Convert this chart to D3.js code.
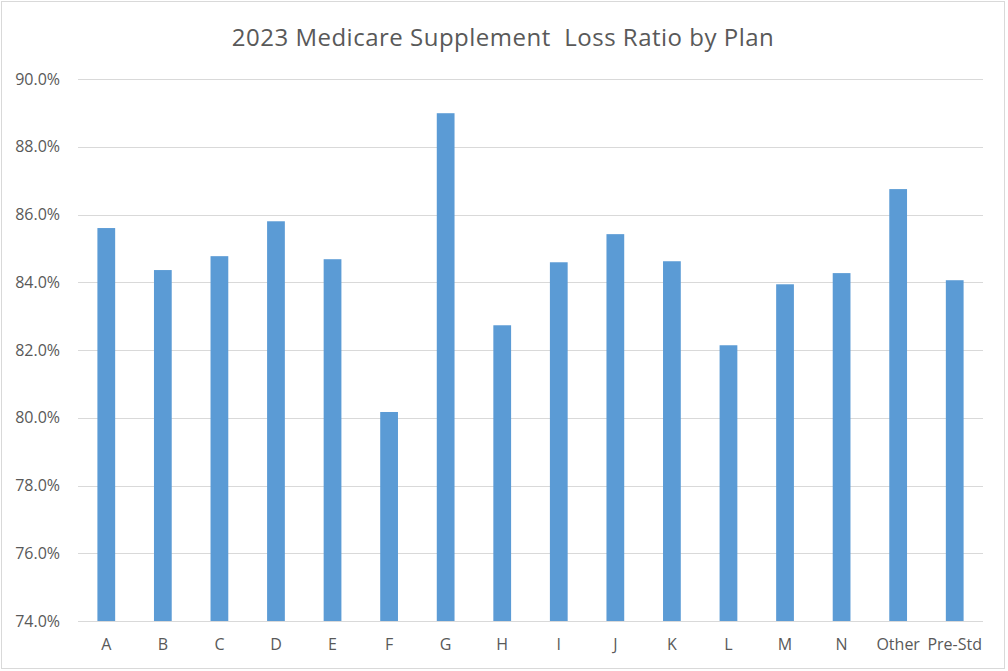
<!DOCTYPE html>
<html>
<head>
<meta charset="utf-8">
<script src="https://cdn.jsdelivr.net/npm/d3@7"></script>
<style>
  html, body { margin: 0; padding: 0; background: #fff; }
  svg { display: block; }
  text { font-family: "Open Sans", "Liberation Sans", sans-serif; fill: #595959; }
</style>
</head>
<body>
<svg id="chart" width="1008" height="671"></svg>
<script>
const categories = ["A","B","C","D","E","F","G","H","I","J","K","L","M","N","Other","Pre-Std"];
const lossRatio = [85.60, 84.36, 84.77, 85.80, 84.68, 80.17, 88.99, 82.73, 84.59, 85.42, 84.62, 82.14, 83.94, 84.27, 86.75, 84.06];
const yTicks = [74, 76, 78, 80, 82, 84, 86, 88, 90];
const title = "2023 Medicare Supplement  Loss Ratio by Plan";

const svg = d3.select("#chart");
const W = 1008, H = 671;
const margin = { left: 78, right: 25, top: 79, bottom: 50 };

svg.append("rect")
  .attr("x", 1.5).attr("y", 1.5)
  .attr("width", 1003).attr("height", 667)
  .attr("fill", "#fff").attr("stroke", "#d9d9d9").attr("stroke-width", 1);

const x = d3.scaleBand()
  .domain(categories)
  .range([margin.left, W - margin.right])
  .paddingInner(0.686).paddingOuter(0.343);

const y = d3.scaleLinear()
  .domain([74, 90])
  .range([H - margin.bottom, margin.top]);

// gridlines
svg.append("g")
  .selectAll("line")
  .data(yTicks)
  .join("line")
  .attr("x1", margin.left).attr("x2", W - margin.right)
  .attr("y1", d => Math.round(y(d)) + 0.5).attr("y2", d => Math.round(y(d)) + 0.5)
  .attr("stroke", "#d9d9d9").attr("stroke-width", 1);

// bars
svg.append("g")
  .selectAll("rect")
  .data(categories.map((c, i) => ({ c, v: lossRatio[i] })))
  .join("rect")
  .attr("x", d => x(d.c))
  .attr("width", x.bandwidth())
  .attr("y", d => y(d.v))
  .attr("height", d => y(74) - y(d.v))
  .attr("fill", "#5b9bd5");

// y axis
const yAxis = d3.axisLeft(y).tickValues(yTicks).tickSize(0).tickPadding(0)
  .tickFormat(d => d.toFixed(1) + "%");
const gy = svg.append("g").attr("transform", `translate(60,0)`).call(yAxis);
gy.select(".domain").remove();
gy.selectAll("text").attr("font-size", 16).attr("fill", "#595959")
  .style("font-family", '"Open Sans", sans-serif');

// x axis
const xAxis = d3.axisBottom(x).tickSize(0).tickPadding(0);
const gx = svg.append("g").attr("transform", `translate(0,${H - margin.bottom + 18})`).call(xAxis);
gx.select(".domain").remove();
gx.selectAll("text").attr("font-size", 16).attr("fill", "#595959")
  .style("font-family", '"Open Sans", sans-serif');

// title
svg.append("text")
  .attr("x", 503).attr("y", 46)
  .attr("text-anchor", "middle")
  .attr("font-size", 24)
  .attr("letter-spacing", 0.5)
  .style("white-space", "pre")
  .attr("fill", "#595959")
  .text(title);
</script>
</body>
</html>
